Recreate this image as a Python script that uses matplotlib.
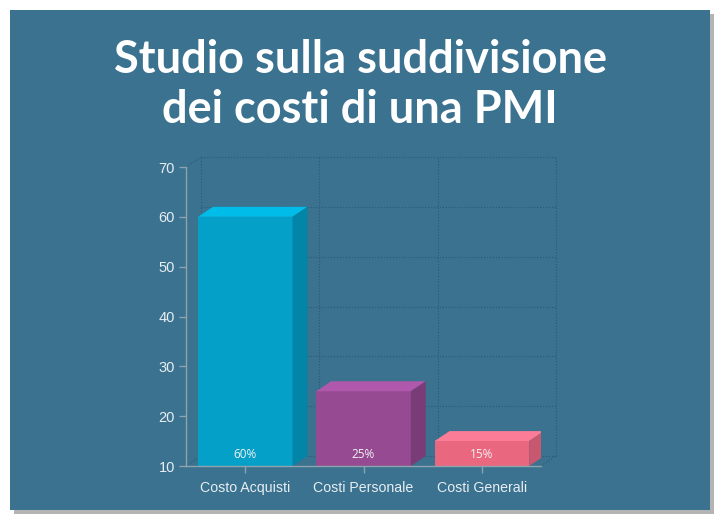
import matplotlib
matplotlib.use('Agg')
import matplotlib.pyplot as plt
from matplotlib.patches import Rectangle, Polygon

categories = ['Costo Acquisti', 'Costi Personale', 'Costi Generali']
values = [60, 25, 15]
labels = ['60%', '25%', '15%']
yticks = [10, 20, 30, 40, 50, 60, 70]

front = ['#05a0c8', '#954a91', '#ea6780']
top = ['#00bce8', '#b058ab', '#fa7c97']
side = ['#0385a7', '#7a3c77', '#c8586f']

bg = '#3a7290'
grid_c = '#2b5a74'
axis_c = '#8ea3ae'
txt_c = '#e8eef2'

W, H = 720, 520
fig = plt.figure(figsize=(7.2, 5.2), dpi=100, facecolor='white')

# panel with shadow
def fig_rect(x0, y0, x1, y1, color):
    r = Rectangle((x0 / W, 1 - y1 / H), (x1 - x0) / W, (y1 - y0) / H,
                  transform=fig.transFigure, facecolor=color, edgecolor='none', zorder=-10)
    fig.patches.append(r)

fig_rect(14, 14, 714, 514, '#b4b4b4')
fig_rect(10, 10, 710, 510, bg)

ax = fig.add_axes([186 / W, 1 - 466 / H, (541 - 186) / W, (466 - 167) / H])
ax.set_facecolor('none')
ax.set_xlim(-0.5, 2.5)
ax.set_ylim(10, 70)

# depth of the 3d effect in data units
px_x = 3 / (541 - 186)
px_y = 60 / (466 - 167)
ddx = 15 * px_x
ddy = 10 * px_y

# back wall grid
x0, x1 = -0.5 + ddx, 2.5 + ddx
for y in yticks:
    ax.plot([x0, x1], [y + ddy, y + ddy], color=grid_c, lw=0.8, ls=':', clip_on=False, zorder=1)
for x in [-0.5, 0.5, 1.5, 2.5]:
    ax.plot([x + ddx, x + ddx], [10 + ddy, 70 + ddy], color=grid_c, lw=0.8, ls=':', clip_on=False, zorder=1)
ax.plot([-0.5, x0], [70, 70 + ddy], color=grid_c, lw=0.8, ls=':', clip_on=False, zorder=1)
ax.plot([-0.5, x0], [10, 10 + ddy], color=grid_c, lw=0.8, ls=':', clip_on=False, zorder=1)
ax.plot([2.5, x1], [10, 10 + ddy], color=grid_c, lw=0.8, ls=':', clip_on=False, zorder=1)

# 3d bars
bw = 0.8
base = 10
for i, v in enumerate(values):
    l, r = i - bw / 2, i + bw / 2
    ax.add_patch(Rectangle((l, base), bw, v - base, facecolor=front[i], edgecolor='none', zorder=3))
    ax.add_patch(Polygon([(l, v), (r, v), (r + ddx, v + ddy), (l + ddx, v + ddy)],
                         closed=True, facecolor=top[i], edgecolor='none', zorder=3))
    ax.add_patch(Polygon([(r, base), (r + ddx, base + ddy), (r + ddx, v + ddy), (r, v)],
                         closed=True, facecolor=side[i], edgecolor='none', zorder=3))
    ax.annotate(labels[i], (i, base), xytext=(0, 12), textcoords='offset pixels',
                ha='center', va='center', color='#f2f2f2', fontsize=8.5,
                family='Open Sans', zorder=4)

for s in ['top', 'right']:
    ax.spines[s].set_visible(False)
for s in ['left', 'bottom']:
    ax.spines[s].set_color(axis_c)
    ax.spines[s].set_linewidth(1)
    ax.spines[s].set_zorder(5)

ax.set_xticks(range(len(categories)))
ax.set_xticklabels(categories)
ax.set_yticks(yticks)
ax.tick_params(colors=axis_c, labelcolor=txt_c, length=5, width=1, labelsize=10.5)
ax.tick_params(axis='x', labelsize=10.2, pad=6)
ax.tick_params(axis='y', pad=3)
for t in ax.get_xticklabels() + ax.get_yticklabels():
    t.set_family('Liberation Sans')

fig.text(0.5, 1 - 85 / H, 'Studio sulla suddivisione\ndei costi di una PMI',
         ha='center', va='center', color='white', fontsize=32.5, fontweight='bold',
         family='Lato', linespacing=1.22)

fig.savefig('out.png', dpi=100, facecolor='white')
